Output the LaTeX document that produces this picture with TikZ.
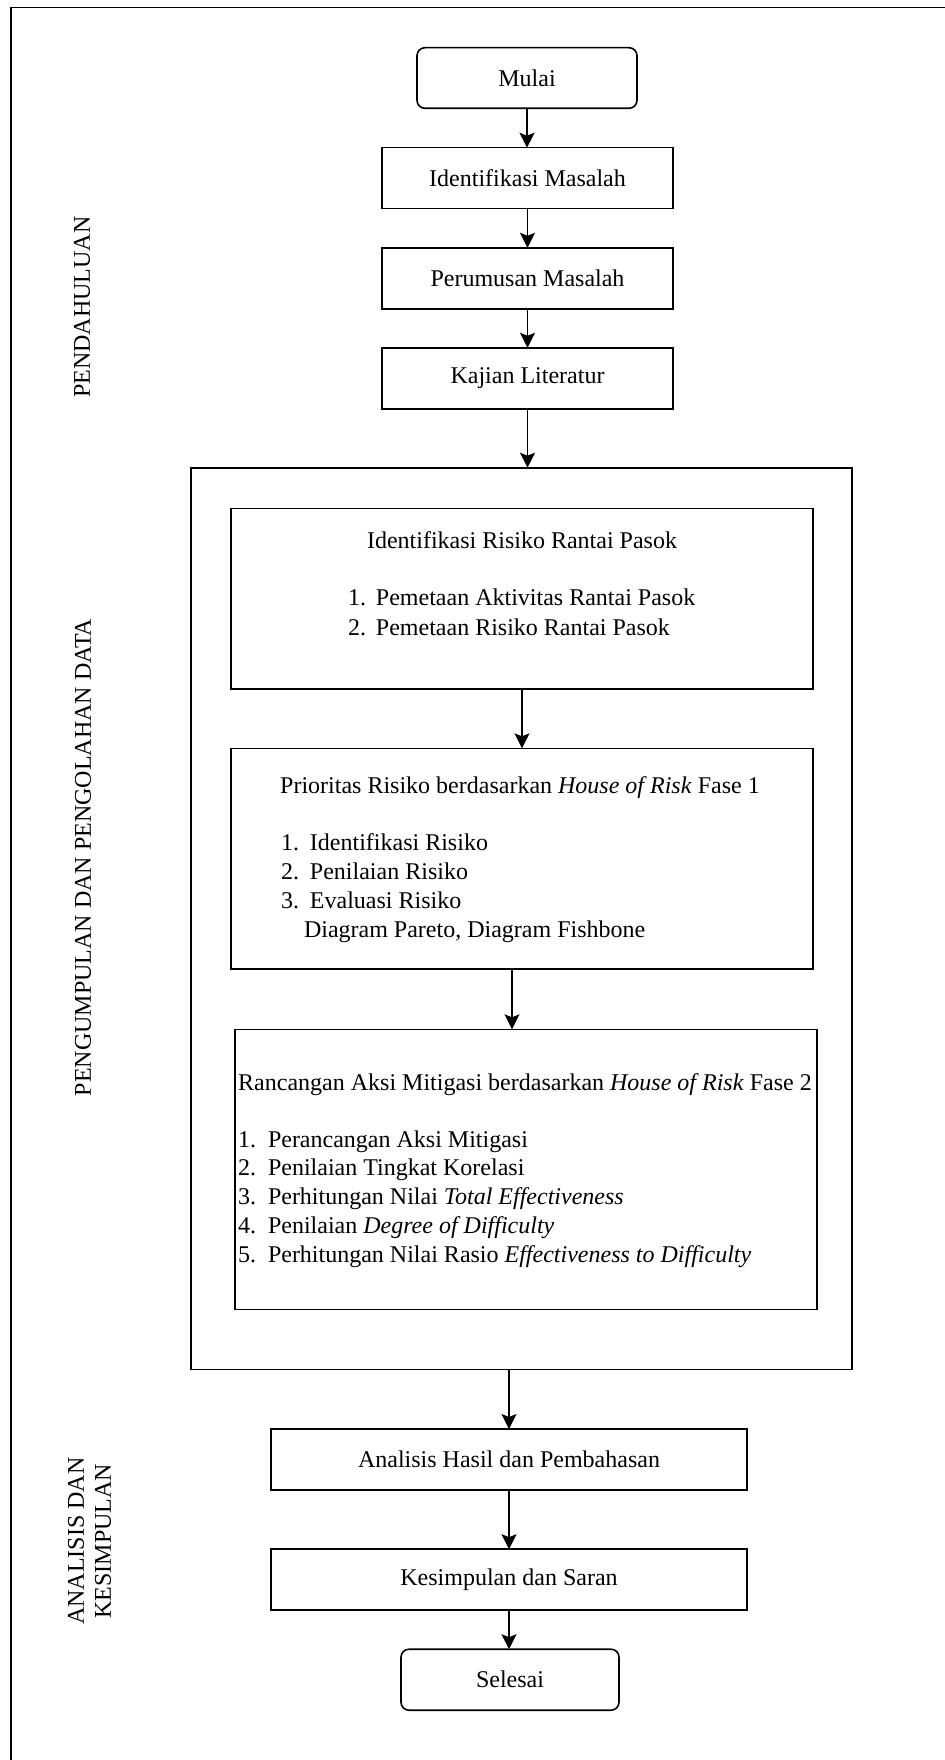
\documentclass[tikz,border=0pt]{standalone}
\usepackage{fontspec}
\setmainfont{Liberation Serif}
\usetikzlibrary{arrows.meta}

% numbered list entry: fixed-width number column, then the text
\newcommand{\itm}[3][14pt]{\makebox[#1][l]{#2}#3}

\begin{document}
\begin{tikzpicture}[x=0.5pt,y=-0.5pt,
  every node/.style={font=\fontsize{12pt}{14.5pt}\selectfont,inner sep=0pt,outer sep=0pt},
  box/.style={draw,line width=0.8pt,rectangle,align=center},
  term/.style={box,rounded corners=4pt},
  txt/.style={anchor=base},
  lst/.style={anchor=base west},
  side/.style={rotate=90,align=center,font=\fontsize{12pt}{13.5pt}\selectfont},
  arr/.style={line width=0.65pt,-{Stealth[length=7.5pt,width=7.5pt,inset=1.5pt]}},
  frame/.style={line width=0.8pt}]

\useasboundingbox (0,0) rectangle (944,1760);

% page frame (only its top and left edges fall inside the page)
\coordinate (fTR) at (970,7.5);
\coordinate (fTL) at (11,7.5);
\coordinate (fBL) at (11,1790);
\draw[frame] (fTR) -- (fTL) -- (fBL);

% introduction steps
\node[term,minimum width=110pt,minimum height=30.3pt] (mulai) at (527,78) {Mulai};
\node[box,minimum width=145.5pt,minimum height=30.5pt] (idm) at (527.5,178.2) {Identifikasi Masalah};
\node[box,minimum width=145.5pt,minimum height=30.5pt] (per) at (527.5,278.3) {Perumusan Masalah};
\node[box,minimum width=145.5pt,minimum height=30.5pt] (kaj) at (527.5,378.3) {Kajian Literatur};

% data collection and processing block
\node[box,minimum width=330.5pt,minimum height=450.8pt] (big) at (521.5,918.5) {};
\node[box,minimum width=291pt,minimum height=90.2pt] (r1) at (522,598.5) {};
\node[box,minimum width=291pt,minimum height=110.4pt] (r2) at (522,858.7) {};
\node[box,minimum width=291pt,minimum height=140pt] (r3) at (526,1169.3) {};

\node[txt] (r1t) at (522,548) {Identifikasi Risiko Rantai Pasok};
\node[lst] (r1a) at (348,605) {\itm{1.}{Pemetaan Aktivitas Rantai Pasok}};
\node[lst] (r1b) at (348,635) {\itm{2.}{Pemetaan Risiko Rantai Pasok}};

\node[txt] (r2t) at (520,793) {Prioritas Risiko berdasarkan \textit{House of Risk} Fase 1};
\node[lst] (r2a) at (281,850) {\itm[14.5pt]{1.}{Identifikasi Risiko}};
\node[lst] (r2b) at (281,879) {\itm[14.5pt]{2.}{Penilaian Risiko}};
\node[lst] (r2c) at (281,908) {\itm[14.5pt]{3.}{Evaluasi Risiko}};
\node[lst] (r2d) at (304,937) {Diagram Pareto, Diagram Fishbone};

\node[txt] (r3t) at (525,1090) {Rancangan Aksi Mitigasi berdasarkan \textit{House of Risk} Fase 2};
\node[lst] (r3a) at (238,1147) {\itm[15pt]{1.}{Perancangan Aksi Mitigasi}};
\node[lst] (r3b) at (238,1175.5) {\itm[15pt]{2.}{Penilaian Tingkat Korelasi}};
\node[lst] (r3c) at (238,1204) {\itm[15pt]{3.}{Perhitungan Nilai \textit{Total Effectiveness}}};
\node[lst] (r3d) at (238,1233) {\itm[15pt]{4.}{Penilaian \textit{Degree of Difficulty}}};
\node[lst] (r3e) at (238,1262) {\itm[15pt]{5.}{Perhitungan Nilai Rasio \textit{Effectiveness to Difficulty}}};

% analysis and conclusion steps
\node[box,minimum width=238pt,minimum height=30.5pt] (ana) at (509,1459.5) {Analisis Hasil dan Pembahasan};
\node[box,minimum width=238pt,minimum height=30.5pt] (kes) at (509,1579.7) {Kesimpulan dan Saran};
\node[term,minimum width=109pt,minimum height=30.5pt] (sel) at (510,1679.7) {Selesai};

% phase labels
\node[side] (lp1) at (82,307) {PENDAHULUAN};
\node[side] (lp2) at (83,857.5) {PENGUMPULAN DAN PENGOLAHAN DATA};
\node[side] (lp3) at (89.5,1541) {ANALISIS DAN\\KESIMPULAN};

% connectors
\draw[arr] (mulai.south) -- (mulai.south |- idm.north);
\draw[arr] (idm.south) -- (per.north);
\draw[arr] (per.south) -- (kaj.north);
\draw[arr] (kaj.south) -- (kaj.south |- big.north);
\draw[arr] (r1.south) -- (r1.south |- r2.north);
\draw[arr] ([xshift=-5pt]r2.south) -- ([xshift=-5pt]r2.south |- r3.north);
\draw[arr] (ana.north |- big.south) -- (ana.north);
\draw[arr] (ana.south) -- (kes.north);
\draw[arr] (kes.south) -- (kes.south |- sel.north);

\end{tikzpicture}
\end{document}
